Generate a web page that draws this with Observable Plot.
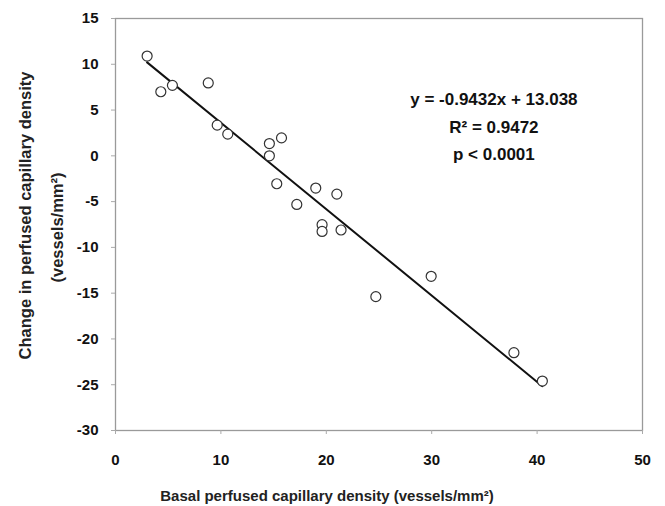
<!DOCTYPE html>
<html><head><meta charset="utf-8">
<script src="https://cdn.jsdelivr.net/npm/d3@7"></script>
<script src="https://cdn.jsdelivr.net/npm/@observablehq/plot@0.6"></script>
<style>
body{margin:0;background:#fff}
#chart svg{font-family:"Liberation Sans",Arial,sans-serif;font-weight:bold;background:#fff}
</style>
</head><body><div id="chart"></div>
<script>
// Data
const basal  = [3.0, 4.3, 5.4, 8.8, 9.65, 10.65, 14.6, 15.75, 14.6, 15.3, 19.0, 21.0, 17.2, 19.6, 19.6, 21.4, 29.95, 24.7, 37.8, 40.5];
const change = [10.9, 7.0, 7.7, 7.96, 3.35, 2.37, 1.34, 1.96, 0.0, -3.05, -3.52, -4.18, -5.31, -7.52, -8.26, -8.1, -13.16, -15.38, -21.5, -24.6];
const xTicks = [0, 10, 20, 30, 40, 50];
const yTicks = [15, 10, 5, 0, -5, -10, -15, -20, -25, -30];
const slope = -0.9432;
const intercept = 13.038;
const annotationLines = ["y = -0.9432x + 13.038", "R² = 0.9472", "p < 0.0001"];
const xTitle = "Basal perfused capillary density (vessels/mm²)";
const yTitle1 = "Change in perfused capillary density";
const yTitle2 = "(vessels/mm²)";

const points = basal.map((b, i) => ({x: b, y: change[i]}));
const xMin = d3.min(basal), xMax = d3.max(basal);
const fit = [xMin, xMax].map(x => ({x, y: slope * x + intercept}));
const plain = d => String(d);

const chart = Plot.plot({
  width: 665,
  height: 506,
  marginLeft: 115,
  marginRight: 23,
  marginTop: 18,
  marginBottom: 76,
  style: {fontSize: "15px", color: "#111"},
  x: {domain: [0, 50], ticks: xTicks},
  y: {domain: [-30, 15], ticks: yTicks},
  marks: [
    Plot.frame({stroke: "#9a9a9a", strokeWidth: 1.3}),
    Plot.axisX({ticks: xTicks, tickFormat: plain, tickSize: 4, tickPadding: 20, stroke: "#aaa", fill: "#111", fontSize: 15, fontWeight: "bold", label: null}),
    Plot.axisY({ticks: yTicks, tickFormat: plain, tickSize: 4, tickPadding: 13, stroke: "#aaa", fill: "#111", fontSize: 15, fontWeight: "bold", label: null}),
    Plot.line(fit, {x: "x", y: "y", stroke: "#111", strokeWidth: 2}),
    Plot.dot(points, {x: "x", y: "y", r: 5, stroke: "#333", strokeWidth: 1.2, fill: "white"}),
    Plot.text([annotationLines.join("\n")], {x: 35.9, y: 3.5, text: d => d, fontSize: 17, fontWeight: "bold", lineHeight: 1.6, lineAnchor: "middle", fill: "#111"}),
    Plot.text([xTitle], {frameAnchor: "bottom", text: d => d, dy: 70, dx: -52, fontSize: 15, fontWeight: "bold", fill: "#222"}),
    Plot.text([yTitle1], {frameAnchor: "left", textAnchor: "middle", text: d => d, rotate: -90, dx: -90, dy: -9, fontSize: 16.5, fontWeight: "bold", fill: "#222"}),
    Plot.text([yTitle2], {frameAnchor: "left", textAnchor: "middle", text: d => d, rotate: -90, dx: -58, dy: 3, fontSize: 16.5, fontWeight: "bold", fill: "#222"})
  ]
});
document.getElementById("chart").appendChild(chart);
</script>
</body></html>
